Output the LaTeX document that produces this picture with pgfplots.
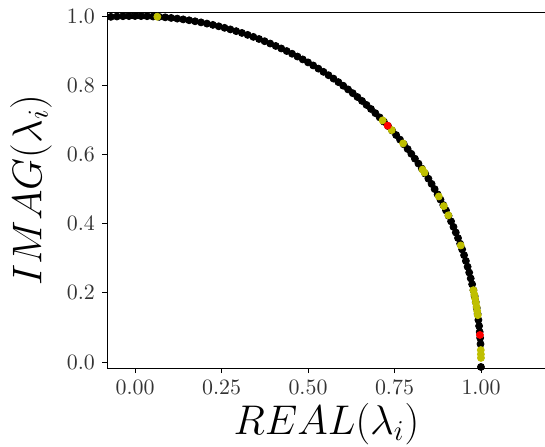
\documentclass[border=0pt]{standalone}
\usepackage{pgfplots}
\pgfplotsset{compat=1.18}
\definecolor{myyellow}{rgb}{0.75,0.75,0}
\begin{document}
\begin{tikzpicture}
\begin{axis}[
  at={(0,0)}, anchor=south west,
  scale only axis, width=219pt, height=178pt,
  xmin=-0.081, xmax=1.185, ymin=-0.017, ymax=1.0116,
  separate axis lines,
  axis x line*=box, axis y line*=left,
  x axis line style={-, line width=0.5pt},
  y axis line style={-, line width=0.5pt},
  xtick pos=left, ytick pos=left,
  tick align=outside, major tick length=2.5pt,
  every tick/.style={black, line width=0.5pt},
  xtick={0,0.25,0.5,0.75,1},
  ytick={0,0.2,0.4,0.6,0.8,1},
  xticklabel style={/pgf/number format/.cd, fixed, fixed zerofill, precision=2},
  yticklabel style={/pgf/number format/.cd, fixed, fixed zerofill, precision=1},
  tick label style={font=\fontsize{10.95}{12}\selectfont, color=black!80},
  xlabel={$REAL(\lambda_i)$},
  ylabel={$IMAG(\lambda_i)$},
  xlabel style={font=\fontsize{20.74}{24}\selectfont, at={(axis description cs:0.501,-0.157)}, anchor=center},
  ylabel style={font=\fontsize{20.74}{24}\selectfont, at={(axis description cs:-0.1735,0.5)}, anchor=center},
  clip=false,
]
\addplot[only marks, mark=*, mark size=1.75pt, mark options={draw=black, fill=black}] coordinates {
(-0.0698,0.9976) (-0.0523,0.9986) (-0.0349,0.9994) (-0.0175,0.9998) (0,1)
(0.0175,0.9998) (0.0349,0.9994) (0.0523,0.9986) (0.0698,0.9976) (0.0872,0.9962)
(0.1045,0.9945) (0.1219,0.9925) (0.1392,0.9903) (0.1564,0.9877) (0.1736,0.9848)
(0.1908,0.9816) (0.2079,0.9781) (0.2250,0.9744) (0.2419,0.9703) (0.2588,0.9659)
(0.2756,0.9613) (0.2924,0.9563) (0.3090,0.9511) (0.3256,0.9455) (0.3420,0.9397)
(0.3584,0.9336) (0.3746,0.9272) (0.3907,0.9205) (0.4067,0.9135) (0.4226,0.9063)
(0.4384,0.8988) (0.4540,0.8910) (0.4695,0.8829) (0.4848,0.8746) (0.5000,0.8660)
(0.5150,0.8572) (0.5299,0.8480) (0.5446,0.8387) (0.5592,0.8290) (0.5736,0.8192)
(0.5878,0.8090) (0.6018,0.7986) (0.6157,0.7880) (0.6293,0.7771) (0.6428,0.7660)
(0.6561,0.7547) (0.6691,0.7431) (0.6820,0.7314) (0.6947,0.7193) (0.7071,0.7071)
(0.7193,0.6947) (0.7314,0.6820) (0.7431,0.6691) (0.7547,0.6561) (0.7660,0.6428)
(0.7771,0.6293) (0.7880,0.6157) (0.7986,0.6018) (0.8090,0.5878) (0.8192,0.5736)
(0.8290,0.5592) (0.8387,0.5446) (0.8480,0.5299) (0.8572,0.5150) (0.8660,0.5000)
(0.8746,0.4848) (0.8829,0.4695) (0.8910,0.4540) (0.8988,0.4384) (0.9063,0.4226)
(0.9135,0.4067) (0.9205,0.3907) (0.9272,0.3746) (0.9336,0.3584) (0.9397,0.3420)
(0.9455,0.3256) (0.9511,0.3090) (0.9563,0.2924) (0.9613,0.2756) (0.9659,0.2588)
(0.9703,0.2419) (0.9744,0.2250) (0.9781,0.2079) (0.9816,0.1908) (0.9848,0.1736)
(0.9877,0.1564) (0.9903,0.1392) (0.9925,0.1219) (0.9945,0.1045) (0.9962,0.0872)
(0.9976,0.0698) (0.9986,0.0523) (0.9999,-0.0140)
};
\addplot[only marks, mark=*, mark size=1.75pt, mark options={draw=myyellow, fill=myyellow}] coordinates {
(0.0645,0.9979) (0.7157,0.6984) (0.7420,0.6704) (0.7749,0.6320) (0.8310,0.5563)
(0.8368,0.5476) (0.8780,0.4787) (0.8926,0.4509) (0.9056,0.4242) (0.9415,0.3371)
(0.9781,0.2079) (0.9806,0.1959) (0.9829,0.1840) (0.9851,0.1719) (0.9871,0.1599)
(0.9890,0.1478) (0.9907,0.1357) (0.9994,0.0349) (0.9997,0.0227) (0.9999,0.0122)
};
\addplot[only marks, mark=*, mark size=1.75pt, mark options={draw=red, fill=red}] coordinates {
(0.7302,0.6833) (0.9969,0.0785)
};
\end{axis}
\pgfresetboundingbox
\path[use as bounding box] (-53.5pt,-39pt) rectangle (219pt,184pt);
\end{tikzpicture}
\end{document}
